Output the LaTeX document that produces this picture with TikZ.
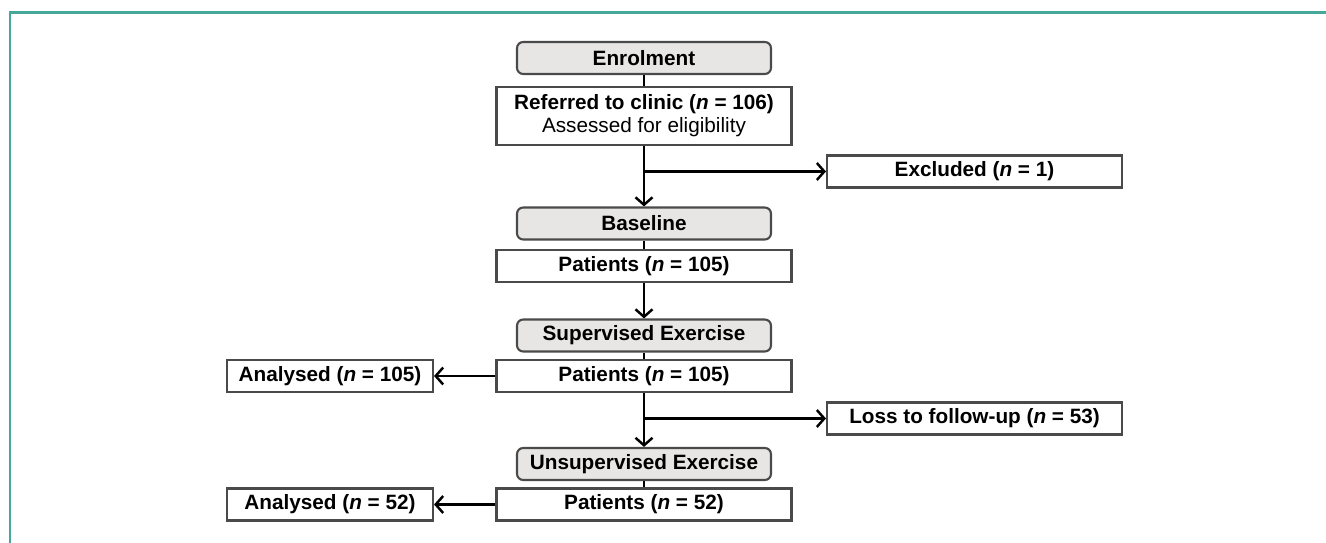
\documentclass[tikz,border=0pt]{standalone}
\usepackage{fontspec}
\setmainfont{Liberation Sans}
\usetikzlibrary{arrows.meta,positioning}

\definecolor{framegreen}{HTML}{45A89A}
\definecolor{phasegray}{HTML}{E8E5E5}
\definecolor{edgegray}{HTML}{4A4A4A}

\begin{document}
\begin{tikzpicture}[
  x=0.02cm,y=-0.02cm,
  font=\fontsize{11.8}{13}\selectfont\bfseries,
  phase/.style={draw=edgegray,fill=phasegray,line width=1.2pt,rounded corners=3.5pt,
    minimum width=5.08cm,minimum height=0.64cm,inner sep=0pt},
  count/.style={draw=edgegray,fill=white,line width=1.2pt,
    minimum width=5.9cm,minimum height=0.64cm,inner sep=0pt,align=center},
  side/.style={count,minimum width=4.12cm},
  link/.style={line width=1.4pt},
  flow/.style={link,-{Straight Barb[length=1.5mm,width=3.4mm,line width=1.4pt]}}
]
  \useasboundingbox (0,0) rectangle (1326,543);
  \draw[framegreen,line width=0.06cm] (10,543) -- (10,13) -- (1326,13);

  \node[phase] (enrol) at (644,58) {Enrolment};
  \node[count,minimum height=1.16cm] (referred) at (644,116)
    {Referred to clinic (\textit{n} = 106)\\\mdseries Assessed for eligibility};
  \node[count] (excluded) at (974.5,171.5) {Excluded (\textit{n} = 1)};
  \node[phase] (baseline) at (644,223.5) {Baseline};
  \node[count] (patA) at (644,266) {Patients (\textit{n} = 105)};
  \node[phase] (superv) at (644,335.5) {Supervised Exercise};
  \node[count] (patB) at (644,376) {Patients (\textit{n} = 105)};
  \node[side] (anaA) at (330,376) {Analysed (\textit{n} = 105)};
  \node[count] (loss) at (974.5,418.5) {Loss to follow-up (\textit{n} = 53)};
  \node[phase] (unsuperv) at (644,464) {Unsupervised Exercise};
  \node[count] (patC) at (644,504.5) {Patients (\textit{n} = 52)};
  \node[side] (anaB) at (330,504.5) {Analysed (\textit{n} = 52)};

  % main column
  \draw[link] (enrol) -- (referred);
  \draw[flow] (referred) -- (baseline);
  \draw[link] (baseline) -- (patA);
  \draw[flow] (patA) -- (superv);
  \draw[link] (superv) -- (patB);
  \draw[flow] (patB) -- (unsuperv);
  \draw[link] (unsuperv) -- (patC);

  % side branches
  \coordinate (splitA) at (referred.south |- excluded.west);
  \coordinate (splitB) at (patB.south |- loss.west);
  \draw[flow] (splitA) -- (excluded.west);
  \draw[flow] (splitB) -- (loss.west);
  \draw[flow] (patB.west) -- (anaA.east);
  \draw[flow] (patC.west) -- (anaB.east);
\end{tikzpicture}
\end{document}
